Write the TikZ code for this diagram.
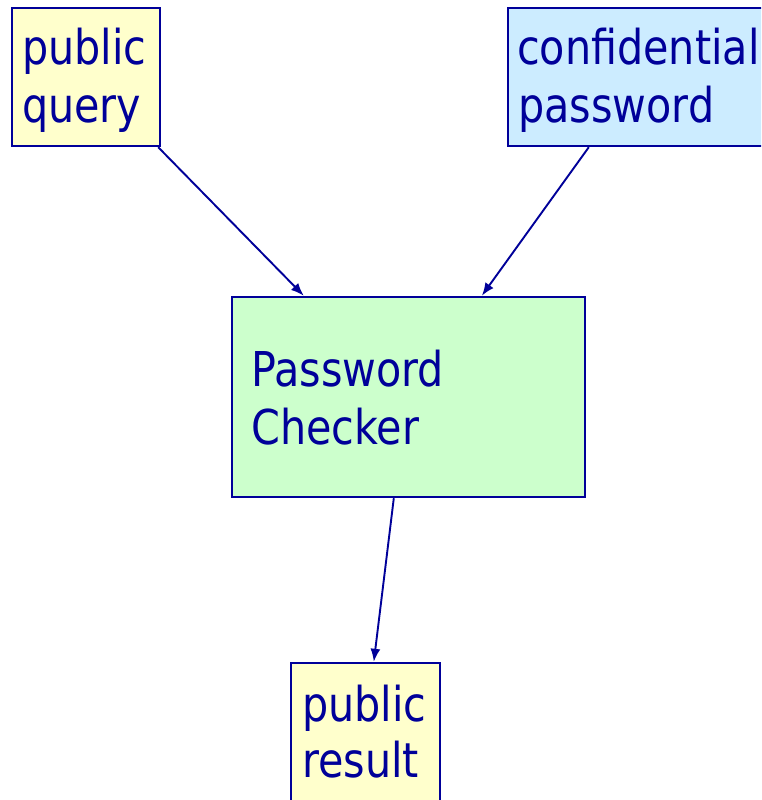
\documentclass[tikz,border=0pt]{standalone}
\usepackage{fontspec}
\setmainfont[FakeStretch=0.86]{DejaVu Sans}
\usetikzlibrary{arrows.meta,calc}
\definecolor{navy}{HTML}{000099}
\definecolor{yel}{HTML}{FFFFCC}
\definecolor{blu}{HTML}{CCECFF}
\definecolor{grn}{HTML}{CCFFCC}
\begin{document}
\begin{tikzpicture}[x=1pt,y=1pt,
  box/.style={draw=navy,line width=2.4pt,minimum width=#1,inner sep=0pt},
  lbl/.style={anchor=base west,inner sep=0pt,text=navy,font=\fontsize{48}{58}\selectfont},
  conn/.style={draw=navy,line width=1.9pt,-{Latex[length=13pt,width=10pt]}}]
\clip (0,0) rectangle (761,800);
\fill[white] (0,0) rectangle (761,800);
\node[box=148pt,fill=yel,minimum height=138pt] (q) at (86,723) {};
\node[box=282pt,fill=blu,minimum height=138pt] (c) at (649,723) {};
\node[box=353pt,fill=grn,minimum height=200pt] (pc) at (408.5,403) {};
\node[box=149pt,fill=yel,minimum height=157pt] (r) at (365.5,58.5) {};
\node[lbl] (q1) at (22,735) {public};
\node[lbl] (q2) at (22,677) {query};
\node[lbl] (c1) at (517,735) {confidential};
\node[lbl] (c2) at (518,677) {password};
\node[lbl] (p1) at (251,413) {Password};
\node[lbl] (p2) at (251,355) {Checker};
\node[lbl] (r1) at (302,78) {public};
\node[lbl] (r2) at (302,22) {result};
\draw[conn] ($(q.south east)+(-3,0)$) -- ($(pc.north west)+(73,0)$);
\draw[conn] ($(c.south west)+(82,0)$) -- ($(pc.north west)+(251,0)$);
\draw[conn] ($(pc.south west)+(163,0)$) -- ($(r.north west)+(84,0)$);
\end{tikzpicture}
\end{document}
